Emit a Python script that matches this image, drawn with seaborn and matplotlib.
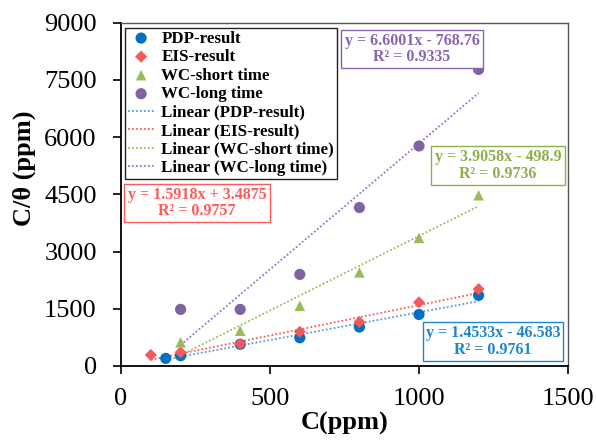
import numpy as np
import pandas as pd
import matplotlib
matplotlib.use("Agg")
import matplotlib.pyplot as plt
import seaborn as sns

# ---- data ----
series_names = ["PDP-result", "EIS-result", "WC-short time", "WC-long time"]
pdp_x = [150, 200, 400, 600, 800, 1000, 1200]
pdp_y = [200, 270, 568, 740, 1020, 1350, 1850]
eis_x = [100, 200, 400, 600, 800, 1000, 1200]
eis_y = [288, 358, 575, 897, 1151, 1667, 2015]
wcs_x = [200, 400, 600, 800, 1000, 1200]
wcs_y = [620, 924, 1578, 2452, 3357, 4474]
wcl_x = [200, 400, 600, 800, 1000, 1200]
wcl_y = [1483, 1483, 2400, 4152, 5764, 7770]

slopes = [1.4533, 1.5918, 3.9058, 6.6001]
intercepts = [-46.583, 3.4875, -498.9, -768.76]
eq_texts = ["y = 1.4533x - 46.583\nR² = 0.9761",
            "y = 1.5918x + 3.4875\nR² = 0.9757",
            "y = 3.9058x - 498.9\nR² = 0.9736",
            "y = 6.6001x - 768.76\nR² = 0.9335"]

x_ticks = [0, 500, 1000, 1500]
y_ticks = [0, 1500, 3000, 4500, 6000, 7500, 9000]

# ---- style ----
sns.set_style("white")
plt.rcParams["font.family"] = ["Liberation Serif", "DejaVu Serif"]
plt.rcParams["text.color"] = "black"
plt.rcParams["axes.labelcolor"] = "black"
plt.rcParams["xtick.color"] = "black"
plt.rcParams["ytick.color"] = "black"

marker_colors = ["#0070C0", "#F55A5A", "#9BBB59", "#8064A2"]
line_colors = ["#5B9BD5", "#FF5A5A", "#9BBB59", "#9B6FD0"]
text_colors = ["#1A86D0", "#FF5A5A", "#8DB04A", "#8A64B0"]
markers = ["o", "D", "^", "o"]
msizes = [65, 38, 58, 65]

fig = plt.figure(figsize=(5.96, 4.42), dpi=100)
ax = fig.add_axes([121/596, 1-366/442, (568-121)/596, (366-22.5)/442])

xs = [pdp_x, eis_x, wcs_x, wcl_x]
ys = [pdp_y, eis_y, wcs_y, wcl_y]

for i, name in enumerate(series_names):
    sns.scatterplot(x=xs[i], y=ys[i], ax=ax, color=marker_colors[i], marker=markers[i],
                    s=msizes[i], edgecolor="none", label=name, zorder=3)

for i, name in enumerate(series_names):
    xl = np.array([min(xs[i]), max(xs[i])], dtype=float)
    yl = slopes[i] * xl + intercepts[i]
    sns.lineplot(x=xl, y=yl, ax=ax, color=line_colors[i], linestyle=(0, (1, 1.2)),
                 linewidth=1.3, label=f"Linear ({name})", zorder=2)

ax.set_xlim(0, 1500)
ax.set_ylim(0, 9000)
ax.set_xticks(x_ticks)
ax.set_yticks(y_ticks)
ax.tick_params(axis="both", which="major", bottom=True, left=True, top=False, right=False,
               direction="out", length=6, width=1.2, color="black",
               labelcolor="black", labelsize=19)
ax.tick_params(axis="y", pad=11.5)
ax.tick_params(axis="x", pad=10)
for s in ["left", "bottom"]:
    ax.spines[s].set_color("black")
    ax.spines[s].set_linewidth(1.3)
for s in ["top", "right"]:
    ax.spines[s].set_color("#555555")
    ax.spines[s].set_linewidth(1.0)

ax.set_xlabel("C(ppm)", fontsize=19, fontweight="bold", labelpad=1, color="black")
ax.set_ylabel("C/θ (ppm)", fontsize=19, fontweight="bold", color="black")
ax.yaxis.set_label_coords(-0.19, 0.575)

leg = ax.legend(loc="upper left", bbox_to_anchor=(125/596, 1-28/442),
                bbox_transform=fig.transFigure, prop={"weight": "bold", "size": 12.2},
                frameon=True, fancybox=False, framealpha=1, edgecolor="#222222",
                borderpad=0.15, labelspacing=0.15, handlelength=1.6, handletextpad=0.4,
                borderaxespad=0)
leg.get_frame().set_linewidth(1.0)
for t in leg.get_texts():
    t.set_color("black")

box_centers = [(493, 341.5), (197, 203), (498, 165.5), (412, 49)]
for i in range(4):
    cx, cy = box_centers[i]
    fig.text(cx/596, 1-cy/442, eq_texts[i], ha="center", va="center", ma="center",
             fontsize=11.5, fontweight="bold", color=text_colors[i], linespacing=1.05,
             bbox=dict(boxstyle="square,pad=0.2", facecolor="white",
                       edgecolor=text_colors[i], linewidth=1.0), zorder=5)

fig.savefig("out.png", dpi=100)
